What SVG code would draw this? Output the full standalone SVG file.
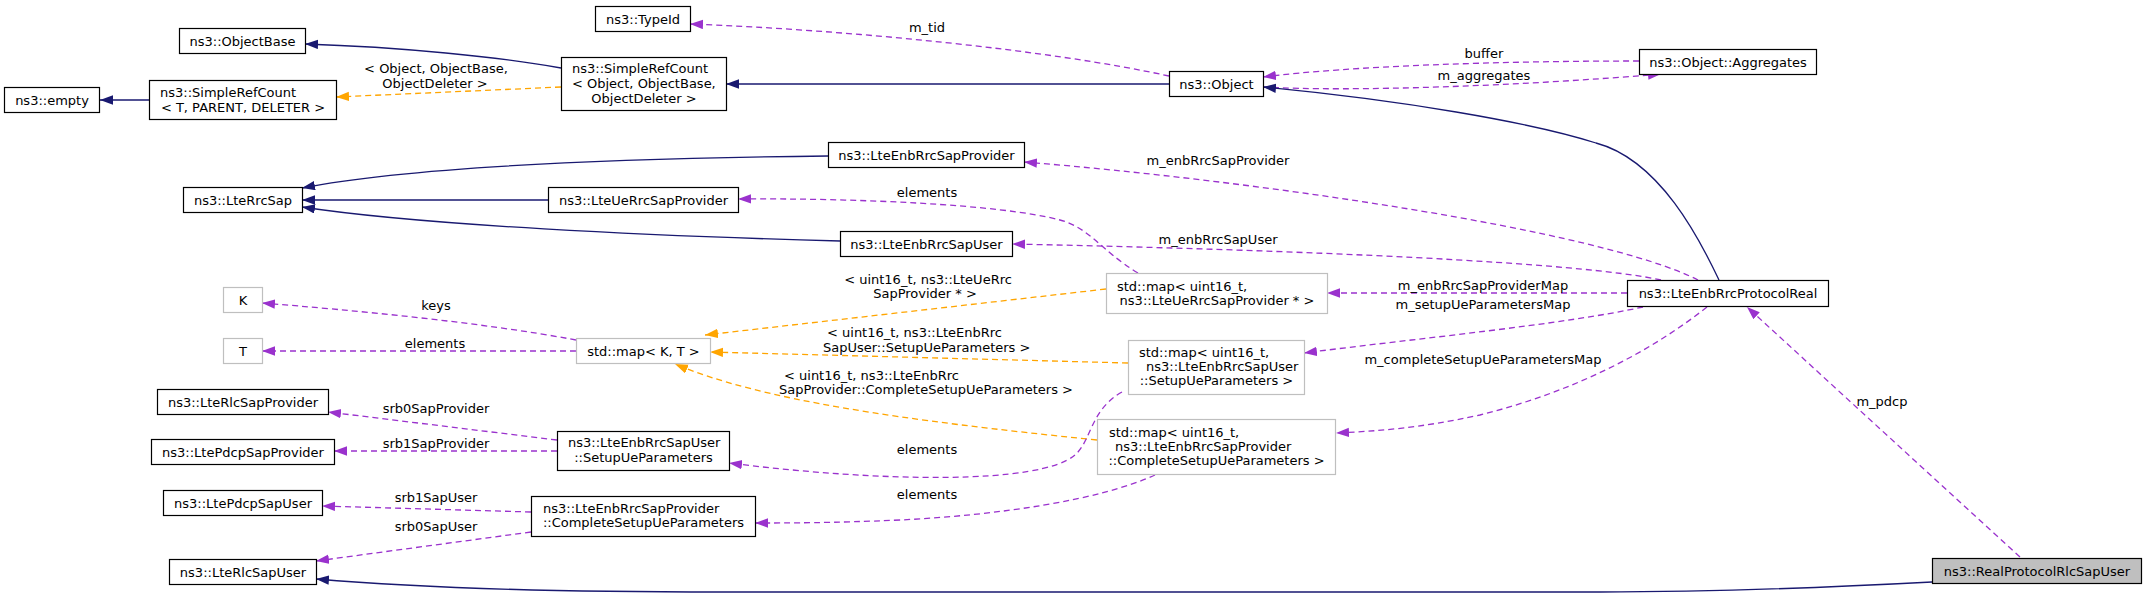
<svg xmlns="http://www.w3.org/2000/svg" width="2147" height="597" viewBox="0 0 2147 597">
<style>
text{font-family:"DejaVu Sans","Liberation Sans",sans-serif;font-size:13px;fill:#000;dominant-baseline:central}
.m{text-anchor:middle}
.n rect{fill:#fff;stroke:#000;stroke-width:1.2}
.g rect{fill:#fff;stroke:#bfbfbf;stroke-width:1.2}
.sel rect{fill:#bfbfbf;stroke:#000;stroke-width:1.2}
.inh{fill:none;stroke:#191970;stroke-width:1.3;marker-end:url(#ab)}
.use{fill:none;stroke:#9a32cd;stroke-width:1.3;stroke-dasharray:6,4;marker-end:url(#ap)}
.tpl{fill:none;stroke:#ffa500;stroke-width:1.3;stroke-dasharray:6,4;marker-end:url(#ao)}
</style>
<defs>
<marker id="ab" markerUnits="userSpaceOnUse" markerWidth="14" markerHeight="10" refX="13" refY="4.7" orient="auto"><path d="M0,0 L13,4.7 L0,9.4 z" fill="#191970"/></marker>
<marker id="ap" markerUnits="userSpaceOnUse" markerWidth="14" markerHeight="10" refX="13" refY="4.7" orient="auto"><path d="M0,0 L13,4.7 L0,9.4 z" fill="#9a32cd"/></marker>
<marker id="ao" markerUnits="userSpaceOnUse" markerWidth="14" markerHeight="10" refX="13" refY="4.7" orient="auto"><path d="M0,0 L13,4.7 L0,9.4 z" fill="#ffa500"/></marker>
</defs>
<rect width="2147" height="597" fill="#fff"/>
<g id="edges">
<path class="inh" d="M149,100 L100,100"/>
<path class="inh" d="M561,68 C500,57 400,47 305,44"/>
<path class="tpl" d="M561,87 L336,97"/>
<path class="inh" d="M1169,84 L726,84"/>
<path class="use" d="M1169,76 C1050,50 850,30 690,24"/>
<path class="use" d="M1639,61 C1500,61 1350,66 1263,77"/>
<path class="use" d="M1263,87 C1350,92 1520,86 1661,74"/>
<path class="inh" d="M1719,280 C1700,240 1660,160 1596,143 C1530,122 1400,100 1263,87"/>
<path class="inh" d="M828,156 C650,158 420,165 302,188"/>
<path class="inh" d="M548,200 L302,200"/>
<path class="inh" d="M840,241 C650,236 420,225 302,207"/>
<path class="use" d="M1698,280 C1600,230 1250,180 1024,162"/>
<path class="use" d="M1138,273 C1100,250 1090,228 1060,220 C1000,204 850,198 738,199"/>
<path class="use" d="M1661,280 C1580,262 1300,250 1012,244"/>
<path class="use" d="M1627,293 L1327,293"/>
<path class="use" d="M1643,307 C1560,325 1420,338 1304,353"/>
<path class="use" d="M1707,307 C1640,360 1560,395 1480,415 C1420,428 1380,431 1336,433"/>
<path class="use" d="M2020,557 L1747,307"/>
<path class="inh" d="M1932,582 C1800,589 1700,592 1600,592 L720,592 C560,592 420,588 316,579"/>
<path class="use" d="M576,340 C480,322 350,310 262,303"/>
<path class="use" d="M576,351 L262,351"/>
<path class="tpl" d="M1106,289 L705,335"/>
<path class="tpl" d="M1128,363 L710,352"/>
<path class="tpl" d="M1097,440 C900,420 760,400 675,364"/>
<path class="use" d="M1122,392 C1090,410 1092,440 1075,455 C1040,485 880,482 729,463"/>
<path class="use" d="M1155,475 C1100,500 1000,515 900,520 C830,523 790,523 755,523"/>
<path class="use" d="M557,440 L328,412"/>
<path class="use" d="M557,451 L334,451"/>
<path class="use" d="M531,512 L322,506"/>
<path class="use" d="M531,532 L316,561"/>
<text class="m" x="436" y="68">&lt; Object, ObjectBase,</text>
<text class="m" x="435" y="83">ObjectDeleter &gt;</text>
<text class="m" x="927" y="27">m_tid</text>
<text class="m" x="1484" y="53">buffer</text>
<text class="m" x="1484" y="75">m_aggregates</text>
<text class="m" x="1218" y="160">m_enbRrcSapProvider</text>
<text class="m" x="927" y="192">elements</text>
<text class="m" x="1218" y="239">m_enbRrcSapUser</text>
<text class="m" x="1483" y="285">m_enbRrcSapProviderMap</text>
<text class="m" x="1483" y="304">m_setupUeParametersMap</text>
<text class="m" x="1483" y="359">m_completeSetupUeParametersMap</text>
<text class="m" x="1882" y="401">m_pdcp</text>
<text class="m" x="436" y="305">keys</text>
<text class="m" x="435" y="343">elements</text>
<text class="m" x="928" y="279">&lt; uint16_t, ns3::LteUeRrc</text>
<text class="m" x="925" y="293">SapProvider * &gt;</text>
<text x="827" y="332">&lt; uint16_t, ns3::LteEnbRrc</text>
<text x="823" y="347">SapUser::SetupUeParameters &gt;</text>
<text x="784" y="375">&lt; uint16_t, ns3::LteEnbRrc</text>
<text x="779" y="389">SapProvider::CompleteSetupUeParameters &gt;</text>
<text class="m" x="927" y="449">elements</text>
<text class="m" x="927" y="494">elements</text>
<text class="m" x="436" y="408">srb0SapProvider</text>
<text class="m" x="436" y="443">srb1SapProvider</text>
<text class="m" x="436" y="497">srb1SapUser</text>
<text class="m" x="436" y="526">srb0SapUser</text>
</g>
<g id="n_typeid" class="n"><rect x="595.5" y="6.5" width="95" height="25"/><text class="m" x="643" y="19">ns3::TypeId</text></g>
<g id="n_objectbase" class="n"><rect x="179.5" y="28.5" width="126" height="25"/><text class="m" x="242.5" y="41">ns3::ObjectBase</text></g>
<g id="n_empty" class="n"><rect x="4.5" y="87.5" width="95" height="25"/><text class="m" x="52" y="100">ns3::empty</text></g>
<g id="n_src_t" class="n"><rect x="149.5" y="80.5" width="187" height="39"/><text x="160" y="92">ns3::SimpleRefCount</text><text class="m" x="243" y="107">&lt; T, PARENT, DELETER &gt;</text></g>
<g id="n_src_obj" class="n"><rect x="561.5" y="57.5" width="165" height="53"/><text x="572" y="68">ns3::SimpleRefCount</text><text x="572" y="83">&lt; Object, ObjectBase,</text><text class="m" x="644" y="98">ObjectDeleter &gt;</text></g>
<g id="n_object" class="n"><rect x="1169.5" y="71.5" width="94" height="25"/><text class="m" x="1216.5" y="84">ns3::Object</text></g>
<g id="n_aggregates" class="n"><rect x="1639.5" y="49.5" width="177" height="25"/><text class="m" x="1728" y="62">ns3::Object::Aggregates</text></g>
<g id="n_ltercsap" class="n"><rect x="183.5" y="187.5" width="119" height="25"/><text class="m" x="243" y="200">ns3::LteRrcSap</text></g>
<g id="n_ueprov" class="n"><rect x="548.5" y="187.5" width="190" height="25"/><text class="m" x="643.5" y="200">ns3::LteUeRrcSapProvider</text></g>
<g id="n_enbprov" class="n"><rect x="828.5" y="142.5" width="196" height="25"/><text class="m" x="926.5" y="155">ns3::LteEnbRrcSapProvider</text></g>
<g id="n_enbuser" class="n"><rect x="840.5" y="231.5" width="172" height="25"/><text class="m" x="926.5" y="244">ns3::LteEnbRrcSapUser</text></g>
<g id="n_k" class="g"><rect x="223.5" y="287.5" width="39" height="25"/><text class="m" x="243" y="300">K</text></g>
<g id="n_t" class="g"><rect x="223.5" y="338.5" width="39" height="25"/><text class="m" x="243" y="351">T</text></g>
<g id="n_mapkt" class="g"><rect x="576.5" y="338.5" width="134" height="25"/><text class="m" x="643.5" y="351">std::map&lt; K, T &gt;</text></g>
<g id="n_map_ue" class="g"><rect x="1106.5" y="273.5" width="221" height="40"/><text x="1117" y="286">std::map&lt; uint16_t,</text><text class="m" x="1217" y="300">ns3::LteUeRrcSapProvider * &gt;</text></g>
<g id="n_map_setup" class="g"><rect x="1128.5" y="340.5" width="176" height="54"/><text x="1139" y="352">std::map&lt; uint16_t,</text><text x="1146" y="366">ns3::LteEnbRrcSapUser</text><text class="m" x="1216.5" y="380">::SetupUeParameters &gt;</text></g>
<g id="n_map_complete" class="g"><rect x="1097.5" y="419.5" width="238" height="55"/><text x="1109" y="432">std::map&lt; uint16_t,</text><text x="1115" y="446">ns3::LteEnbRrcSapProvider</text><text class="m" x="1216.5" y="460">::CompleteSetupUeParameters &gt;</text></g>
<g id="n_protocolreal" class="n"><rect x="1627.5" y="280.5" width="201" height="26"/><text class="m" x="1728" y="293">ns3::LteEnbRrcProtocolReal</text></g>
<g id="n_realrlcuser" class="sel"><rect x="1932.5" y="558.5" width="209" height="25"/><text class="m" x="2037" y="571">ns3::RealProtocolRlcSapUser</text></g>
<g id="n_rlcprov" class="n"><rect x="157.5" y="389.5" width="171" height="25"/><text class="m" x="243" y="402">ns3::LteRlcSapProvider</text></g>
<g id="n_pdcpprov" class="n"><rect x="151.5" y="439.5" width="183" height="25"/><text class="m" x="243" y="452">ns3::LtePdcpSapProvider</text></g>
<g id="n_pdcpuser" class="n"><rect x="163.5" y="490.5" width="159" height="25"/><text class="m" x="243" y="503">ns3::LtePdcpSapUser</text></g>
<g id="n_rlcuser" class="n"><rect x="169.5" y="559.5" width="147" height="25"/><text class="m" x="243" y="572">ns3::LteRlcSapUser</text></g>
<g id="n_setupue" class="n"><rect x="557.5" y="431.5" width="172" height="39"/><text x="568" y="442">ns3::LteEnbRrcSapUser</text><text class="m" x="643.5" y="457">::SetupUeParameters</text></g>
<g id="n_completesetup" class="n"><rect x="531.5" y="496.5" width="224" height="40"/><text x="543" y="508">ns3::LteEnbRrcSapProvider</text><text class="m" x="643.5" y="522">::CompleteSetupUeParameters</text></g>
</svg>
